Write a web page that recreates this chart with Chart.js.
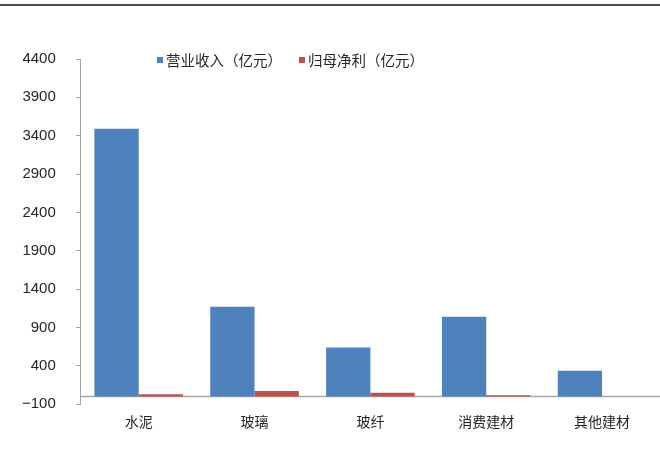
<!DOCTYPE html>
<html>
<head>
<meta charset="utf-8">
<script src="https://cdn.jsdelivr.net/npm/chart.js@4.4.0/dist/chart.umd.min.js"></script>
<style>
  html, body { margin: 0; padding: 0; background: #fff; }
  #wrap { width: 660px; height: 459px; position: relative; }
</style>
</head>
<body>
<div id="wrap"><canvas id="myChart" width="660" height="459"></canvas></div>
<script>
// categorias y valores
const categorias = ['水泥', '玻璃', '玻纤', '消费建材', '其他建材'];
const ingresos = [3490, 1170, 640, 1040, 335];   // 营业收入（亿元）
const beneficio = [30, 73, 50, 18, 2];            // 归母净利（亿元）
const yTicks = [-100, 400, 900, 1400, 1900, 2400, 2900, 3400, 3900, 4400];

const nombres = ['营业收入（亿元）', '归母净利（亿元）'];
const colores = ['#4F81BD', '#C0504D'];

const cjk = '"Noto Sans CJK SC", "Noto Sans", sans-serif';

// linea de cero, linea superior y leyenda propia
const extras = {
  id: 'extras',
  beforeDatasetsDraw(chart) {
    const c = chart.ctx, a = chart.chartArea;
    const y0 = chart.scales.y.getPixelForValue(0);
    c.save();
    c.strokeStyle = '#a6a6a6';
    c.lineWidth = 1.5;
    c.beginPath();
    c.moveTo(a.left, y0);
    c.lineTo(a.right, y0);
    c.stroke();
    c.restore();
  },
  afterDraw(chart) {
    const c = chart.ctx;
    c.save();
    c.fillStyle = '#4d4d4d';
    c.fillRect(0, 4, 660, 2);
    c.font = '14.5px ' + cjk;
    c.textBaseline = 'middle';
    const pos = [157, 299];
    chart.data.datasets.forEach((ds, i) => {
      c.fillStyle = ds.backgroundColor;
      c.fillRect(pos[i], 57, 6, 6);
      c.fillStyle = '#262626';
      c.fillText(ds.label, pos[i] + 9, 60);
    });
    c.restore();
  }
};

const ctx = document.getElementById('myChart');
const myChart = new Chart(ctx, {
  type: 'bar',
  data: {
    labels: categorias,
    datasets: [
      { label: nombres[0], data: ingresos, backgroundColor: colores[0] },
      { label: nombres[1], data: beneficio, backgroundColor: colores[1] }
    ]
  },
  options: {
    responsive: false,
    animation: false,
    categoryPercentage: 0.765,
    barPercentage: 1,
    layout: { padding: { top: 59, right: 0, bottom: 20, left: 2 } },
    plugins: {
      legend: { display: false },
      tooltip: { enabled: false }
    },
    scales: {
      x: {
        grid: { display: false, drawTicks: false },
        border: { display: false },
        ticks: { padding: 9, color: '#262626', font: { family: cjk, size: 14 } }
      },
      y: {
        min: -100,
        max: 4400,
        afterBuildTicks: (scale) => { scale.ticks = yTicks.map(v => ({ value: v })); },
        grid: { drawOnChartArea: false, drawTicks: true, tickLength: 5, color: '#a6a6a6' },
        border: { display: true, color: '#a6a6a6', width: 1 },
        ticks: {
          padding: 20,
          color: '#262626',
          font: { family: '"Liberation Sans", Arial, sans-serif', size: 15 },
          callback: (v) => v < 0 ? '\u2212' + Math.abs(v) : String(v)
        }
      }
    }
  },
  plugins: [extras]
});
</script>
</body>
</html>
